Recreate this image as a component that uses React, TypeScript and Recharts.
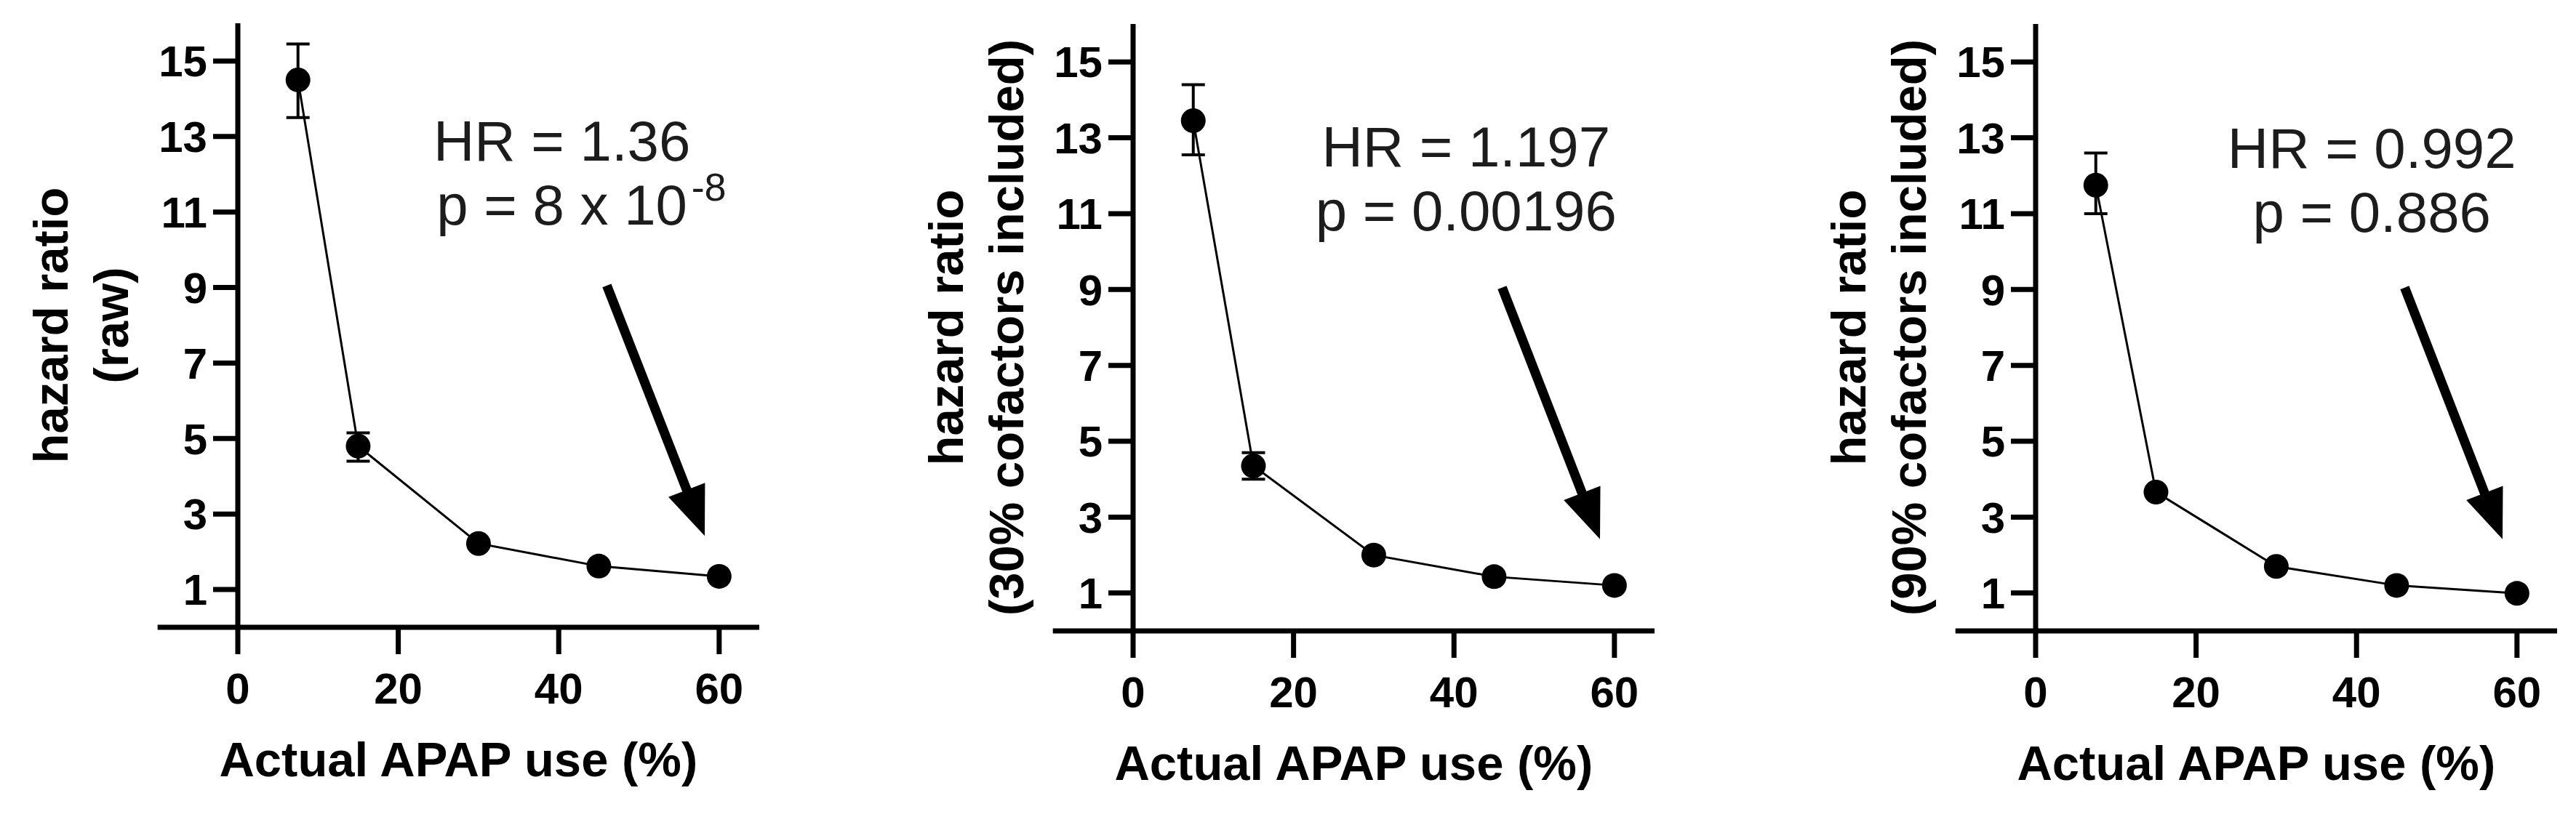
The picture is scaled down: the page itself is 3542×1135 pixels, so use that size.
import React from "react";
import { LineChart, Line, XAxis, YAxis, ErrorBar, ReferenceLine, ReferenceDot } from "recharts";

const FONT = '"Liberation Sans", Arial, sans-serif';

// x positions (actual APAP use, %)
const apapUse = [7.5, 15, 30, 45, 60];

// hazard ratios per panel, error as [below, above]
const hrRaw = [14.5, 4.8, 2.22, 1.62, 1.35];
const errRaw = [[1.0, 0.95], [0.4, 0.35], [0, 0], [0, 0], [0, 0]];

const hr30 = [13.45, 4.35, 2.0, 1.43, 1.2];
const err30 = [[0.9, 0.95], [0.35, 0.35], [0, 0], [0, 0], [0, 0]];

const hr90 = [11.75, 3.66, 1.7, 1.2, 0.99];
const err90 = [[0.75, 0.85], [0, 0], [0, 0], [0, 0], [0, 0]];

const yTicks = [1, 3, 5, 7, 9, 11, 13, 15];
const xTicks = [0, 20, 40, 60];

const yTitles = [
  ["hazard ratio", "(raw)"],
  ["hazard ratio", "(30% cofactors included)"],
  ["hazard ratio", "(90% cofactors included)"],
];
const xTitle = "Actual APAP use (%)";
const hrLabels = ["HR = 1.36", "HR = 1.197", "HR = 0.992"];
const pLabels = ["p = 8 x 10", "p = 0.00196", "p = 0.886"];
const pExponents = ["-8", "", ""];

// annotation anchor (data coords)
const annX = [40.4, 41.5, 41.9];
const annY = [12.37, 12.25, 12.2];
const arrowFrom = { x: 46, y: 9.05 };
const arrowTo = { x: 58.2, y: 2.42 };
const xAxisStart = -10;
const xMax = 65;

const panels = [
  { hr: hrRaw, err: errRaw, left: 0, top: 32, bottom: 863 },
  { hr: hr30, err: err30, left: 1231, top: 33, bottom: 868 },
  { hr: hr90, err: err90, left: 2472, top: 33, bottom: 868 },
];

const Arrow = (props: any) => {
  const { x1, y1, x2, y2 } = props;
  const dx = x2 - x1;
  const dy = y2 - y1;
  const len = Math.hypot(dx, dy);
  const ux = dx / len;
  const uy = dy / len;
  const headLen = 68;
  const headHalf = 27;
  const bx = x2 - ux * headLen;
  const by = y2 - uy * headLen;
  const px = -uy;
  const py = ux;
  return (
    <g>
      <line x1={x1} y1={y1} x2={bx + ux * 4} y2={by + uy * 4} stroke="#000" strokeWidth={13} />
      <polygon
        points={`${x2},${y2} ${bx + px * headHalf},${by + py * headHalf} ${bx - px * headHalf},${by - py * headHalf}`}
        fill="#000"
      />
    </g>
  );
};

function Panel({ idx }: { idx: number }) {
  const p = panels[idx];
  const data = apapUse.map((x, i) => ({ x, hr: p.hr[i], err: p.err[i] }));
  const height = 1135;
  const yTitle = yTitles[idx];

  const yLabel = (props: any) => {
    const vb = props.viewBox;
    const cy = vb.y + vb.height / 2;
    const c1 = vb.x + vb.width - 258;
    const c2 = vb.x + vb.width - 175;
    return (
      <g fontFamily={FONT} fontWeight={700} fontSize={67} fill="#000">
        <text x={c1} y={cy} transform={`rotate(-90, ${c1}, ${cy})`} textAnchor="middle" dominantBaseline="central">
          {yTitle[0]}
        </text>
        <text x={c2} y={cy} transform={`rotate(-90, ${c2}, ${cy})`} textAnchor="middle" dominantBaseline="central">
          {yTitle[1]}
        </text>
      </g>
    );
  };

  return (
    <div style={{ position: "absolute", left: p.left, top: 0 }}>
      <LineChart
        width={1070}
        height={height}
        data={data}
        margin={{ top: p.top, right: 26, bottom: 0, left: 0 }}
      >
        <XAxis
          dataKey="x"
          type="number"
          domain={[0, xMax]}
          ticks={xTicks}
          allowDataOverflow
          height={height - p.bottom}
          axisLine={{ stroke: "#000", strokeWidth: 7 }}
          tickLine={{ stroke: "#000", strokeWidth: 7 }}
          tickSize={37}
          tickMargin={25}
          tick={{ fontSize: 60, fontWeight: 700, fill: "#000", fontFamily: FONT }}
        />
        <YAxis
          type="number"
          domain={[0, 16]}
          ticks={yTicks}
          width={327}
          axisLine={{ stroke: "#000", strokeWidth: 7 }}
          tickLine={{ stroke: "#000", strokeWidth: 7 }}
          tickSize={34}
          tickMargin={8}
          tick={{ fontSize: 60, fontWeight: 700, fill: "#000", fontFamily: FONT }}
          label={{ content: yLabel }}
        />
        <ReferenceLine
          segment={[{ x: xAxisStart, y: 0 }, { x: 0, y: 0 }]}
          stroke="#000"
          strokeWidth={7}
          ifOverflow="visible"
        />
        <ReferenceLine
          segment={[arrowFrom, arrowTo]}
          ifOverflow="visible"
          shape={(props: any) => <Arrow {...props} />}
        />
        <ReferenceDot
          x={annX[idx]}
          y={annY[idx]}
          ifOverflow="visible"
          shape={(props: any) => (
            <g fontFamily={FONT} fill="#1c1c1c">
              <text x={props.cx} y={props.cy} textAnchor="middle" fontSize={78}>
                {hrLabels[idx]}
              </text>
              <text x={props.cx} y={props.cy + 88} textAnchor="middle" fontSize={78}>
                {pLabels[idx]}
              </text>
              {pExponents[idx] ? (
                <text x={props.cx + 178} y={props.cy + 55} fontSize={54}>
                  {pExponents[idx]}
                </text>
              ) : null}
            </g>
          )}
        />
        <ReferenceDot
          x={(xAxisStart + xMax) / 2}
          y={0}
          ifOverflow="visible"
          shape={(props: any) => (
            <text
              x={props.cx}
              y={props.cy + 205}
              textAnchor="middle"
              fontFamily={FONT}
              fontWeight={700}
              fontSize={67}
              fill="#000"
            >
              {xTitle}
            </text>
          )}
        />
        <Line
          dataKey="hr"
          stroke="#000"
          strokeWidth={3}
          dot={{ r: 17, fill: "#000", stroke: "#000", strokeWidth: 0 }}
          activeDot={false}
          isAnimationActive={false}
        >
          <ErrorBar dataKey="err" direction="y" width={16} stroke="#000" strokeWidth={4} isAnimationActive={false} />
        </Line>
      </LineChart>
    </div>
  );
}

export default function App() {
  return (
    <div style={{ position: "absolute", left: 0, top: 0, width: 3542, height: 1135, background: "#fff" }}>
      <Panel idx={0} />
      <Panel idx={1} />
      <Panel idx={2} />
    </div>
  );
}
